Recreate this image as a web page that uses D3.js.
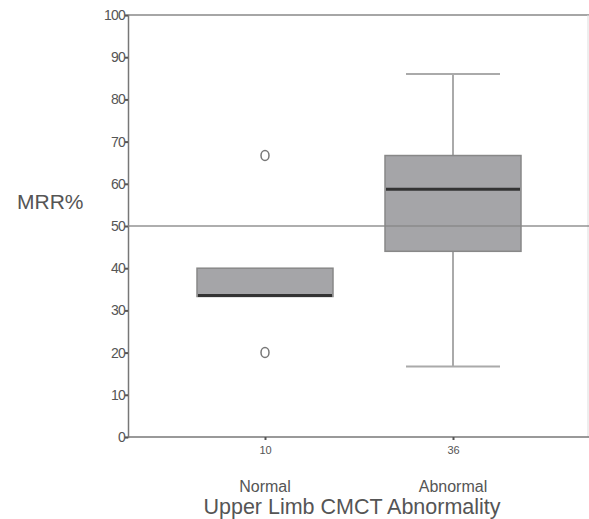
<!DOCTYPE html>
<html>
<head>
<meta charset="utf-8">
<script src="https://cdn.jsdelivr.net/npm/d3@7"></script>
<style>
  body { margin: 0; background: #fff; }
  text { font-family: Arial, "Liberation Sans", sans-serif; fill: #555; }
</style>
</head>
<body>
<svg id="mainSvg" width="589" height="519"></svg>
<script>
// data
let groups = ['Normal', 'Abnormal']
let counts = ['10', '36']
let q1 = [33.3, 44]
let median = [33.3, 58.5]
let q3 = [40, 66.7]
let whiskLo = [null, 16.7]
let whiskHi = [null, 86]
let outliers = [[66.7, 20], []]
let yTicks = [0, 10, 20, 30, 40, 50, 60, 70, 80, 90, 100]
let refLine = 50

let svg = d3.select('#mainSvg')
let plotL = 128, plotR = 589, plotT = 15, plotB = 437

let y = d3.scaleLinear().domain([0, 100]).range([plotB, plotT])
let x = d3.scalePoint().domain(groups).range([265, 453])
let boxW = 136, capW = 94

// frame
svg.append('line').attr('x1', plotL).attr('x2', plotR).attr('y1', plotT).attr('y2', plotT)
  .attr('stroke', '#888').attr('stroke-width', 1.5)
svg.append('line').attr('x1', plotR - 1).attr('x2', plotR - 1).attr('y1', plotT).attr('y2', plotB)
  .attr('stroke', '#ddd').attr('stroke-width', 1)

// y axis
let yAxis = svg.append('g').attr('transform', `translate(${plotL},0)`)
  .call(d3.axisLeft(y).tickValues(yTicks).tickSize(3).tickPadding(0))
yAxis.select('.domain').attr('stroke', '#777').attr('stroke-width', 1.5)
yAxis.selectAll('.tick line').attr('stroke', '#555').attr('stroke-width', 2)
yAxis.selectAll('.tick text').style('font-size', '14px').style('letter-spacing', '-0.8px').attr('fill', '#666')

// x axis
let xAxis = svg.append('g').attr('transform', `translate(0,${plotB})`)
  .call(d3.axisBottom(x).tickSize(3).tickFormat((d, i) => counts[i]).tickPadding(6))
xAxis.select('.domain').attr('d', `M${plotL},0H${plotR}`).attr('stroke', '#777').attr('stroke-width', 1.5)
xAxis.selectAll('.tick line').attr('stroke', '#555').attr('stroke-width', 2)
xAxis.selectAll('.tick text').style('font-size', '11px').attr('fill', '#777')

svg.selectAll('.grp').data(groups).enter().append('text')
  .attr('x', d => x(d)).attr('y', 492).attr('text-anchor', 'middle')
  .style('font-size', '16px').attr('fill', '#555').text(d => d)

svg.append('text').attr('x', 352).attr('y', 514).attr('text-anchor', 'middle')
  .style('font-size', '21.5px').attr('fill', '#444').text('Upper Limb CMCT Abnormality')
svg.append('text').attr('x', 17).attr('y', 209)
  .style('font-size', '21px').attr('fill', '#444').text('MRR%')

// whiskers
groups.forEach((g, i) => {
  if (whiskHi[i] == null) return
  let cx = x(g)
  let w = svg.append('g').attr('stroke', '#aaa').attr('stroke-width', 2)
  w.append('line').attr('x1', cx).attr('x2', cx).attr('y1', y(whiskHi[i])).attr('y2', y(q3[i]))
  w.append('line').attr('x1', cx).attr('x2', cx).attr('y1', y(q1[i])).attr('y2', y(whiskLo[i]))
  w.append('line').attr('x1', cx - capW / 2).attr('x2', cx + capW / 2).attr('y1', y(whiskHi[i])).attr('y2', y(whiskHi[i]))
  w.append('line').attr('x1', cx - capW / 2).attr('x2', cx + capW / 2).attr('y1', y(whiskLo[i])).attr('y2', y(whiskLo[i]))
})

// boxes
svg.selectAll('.box').data(groups).enter().append('rect')
  .attr('x', d => x(d) - boxW / 2)
  .attr('y', (d, i) => y(q3[i]))
  .attr('width', boxW)
  .attr('height', (d, i) => y(q1[i]) - y(q3[i]))
  .attr('fill', '#a5a5a8').attr('stroke', '#888').attr('stroke-width', 1.5)

svg.selectAll('.med').data(groups).enter().append('line')
  .attr('x1', d => x(d) - boxW / 2 + 1).attr('x2', d => x(d) + boxW / 2 - 1)
  .attr('y1', (d, i) => y(median[i]) - 1).attr('y2', (d, i) => y(median[i]) - 1)
  .attr('stroke', '#333').attr('stroke-width', 3)

// reference line
svg.append('line').attr('x1', plotL).attr('x2', plotR).attr('y1', y(refLine)).attr('y2', y(refLine))
  .attr('stroke', '#888').attr('stroke-width', 1.5).attr('opacity', 0.9)

// outliers
groups.forEach((g, i) => {
  svg.selectAll('.out' + i).data(outliers[i]).enter().append('ellipse')
    .attr('cx', x(g)).attr('cy', d => y(d)).attr('rx', 4).attr('ry', 5)
    .attr('fill', 'none').attr('stroke', '#777').attr('stroke-width', 1.5)
})
</script>
</body>
</html>
